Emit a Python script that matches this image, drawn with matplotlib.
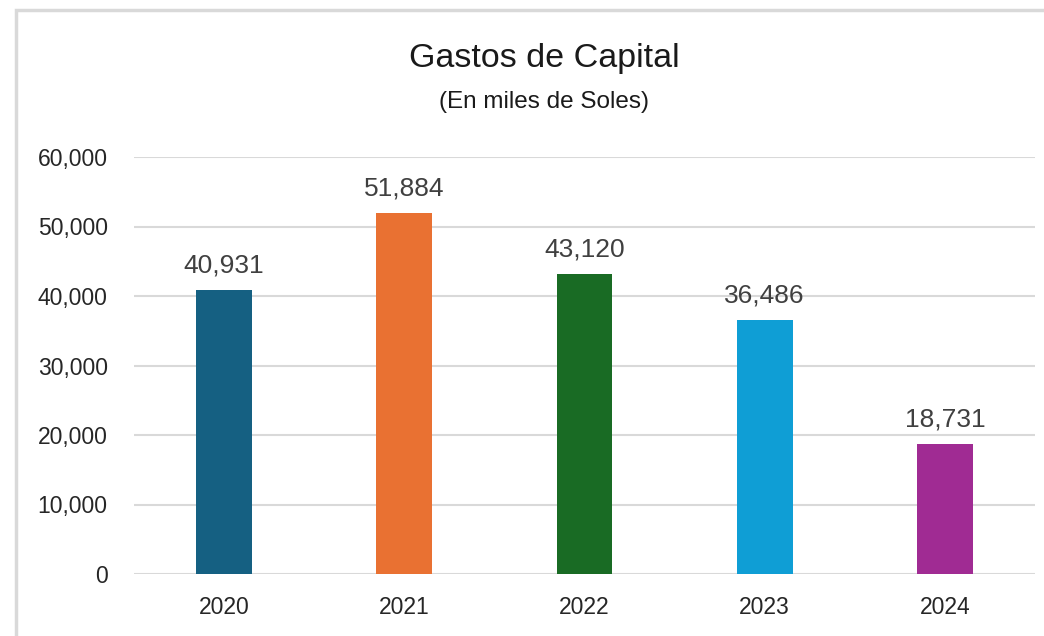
import matplotlib
matplotlib.use("Agg")
import matplotlib.pyplot as plt
from matplotlib.patches import Rectangle
from matplotlib.ticker import FuncFormatter

years = ["2020", "2021", "2022", "2023", "2024"]
values = [40931, 51884, 43120, 36486, 18731]
colors = ["#156082", "#E97132", "#196B24", "#0F9ED5", "#A02B93"]
yticks = [0, 10000, 20000, 30000, 40000, 50000, 60000]

plt.rcParams['font.family'] = ['Liberation Sans', 'DejaVu Sans']

W, H = 1044, 636
fig = plt.figure(figsize=(W / 100, H / 100), dpi=100)
fig.patches.append(Rectangle((16 / W, -0.1), 1.2, (H - 10) / H + 0.1, transform=fig.transFigure,
                             fill=False, edgecolor="#d9d9d9", linewidth=2.5))

left, right = 134 / W, 1035 / W
bottom, top = 1 - 574 / H, 1 - 157 / H
ax = fig.add_axes([left, bottom, right - left, top - bottom])
x = range(len(years))
ax.bar(x, values, width=0.31, color=colors, zorder=3)
ax.set_xlim(-0.5, len(years) - 0.5)
ax.set_ylim(0, 60000)
ax.set_yticks(yticks)
ax.yaxis.set_major_formatter(FuncFormatter(lambda v, p: f"{int(v):,}"))
ax.set_xticks(list(x))
ax.set_xticklabels(years)
ax.grid(axis="y", color="#d9d9d9", linewidth=1.5, zorder=0)
for s in ax.spines.values():
    s.set_visible(False)
ax.tick_params(axis="both", length=0, labelsize=16.5, colors="#262626")
ax.tick_params(axis="y", pad=19)
ax.tick_params(axis="x", pad=16)
for xi, v in zip(x, values):
    ax.annotate(f"{v:,}", (xi, v), xytext=(0, 9), textcoords="offset points",
                ha="center", va="bottom", fontsize=19, color="#404040")

fig.text(544 / W, 1 - 58 / H, "Gastos de Capital", ha="center", va="center", fontsize=24.5, color="#1a1a1a")
fig.text(544 / W, 1 - 102 / H, "(En miles de Soles)", ha="center", va="center", fontsize=17.5, color="#1a1a1a")

fig.savefig("out.png", dpi=100, facecolor="white")
